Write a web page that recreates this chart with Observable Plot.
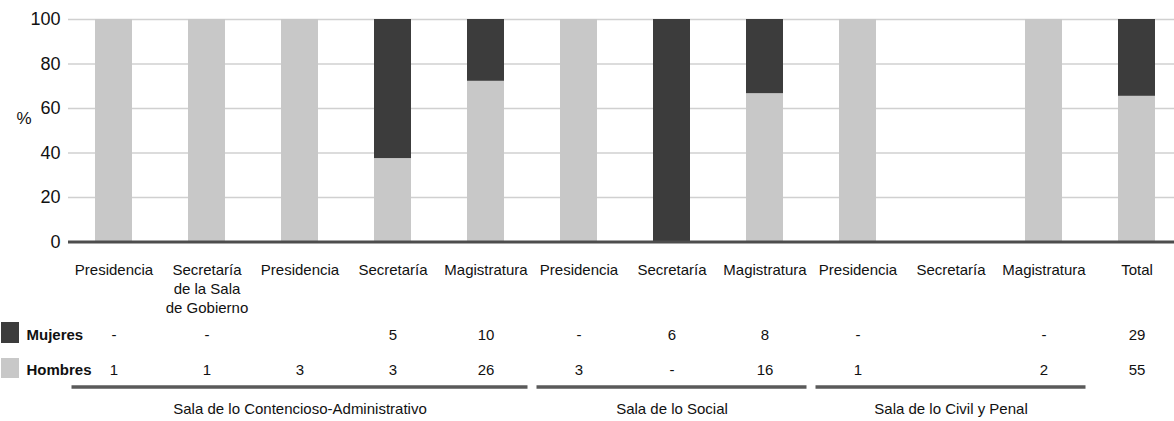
<!DOCTYPE html>
<html>
<head>
<meta charset="utf-8">
<script src="https://cdn.jsdelivr.net/npm/d3@7"></script>
<script src="https://cdn.jsdelivr.net/npm/@observablehq/plot@0.6"></script>
<style>
  html, body { margin: 0; padding: 0; background: #fff; }
  #chart svg { display: block; }
</style>
</head>
<body>
<div id="chart"></div>
<script>
// ---- Data ----
const categories = ["Presidencia", "Secretaría\nde la Sala\nde Gobierno", "Presidencia", "Secretaría", "Magistratura",
  "Presidencia", "Secretaría", "Magistratura", "Presidencia", "Secretaría", "Magistratura", "Total"];
const mujeres = [0, 0, null, 5, 10, 0, 6, 8, 0, null, 0, 29];
const hombres = [1, 1, 3, 3, 26, 3, 0, 16, 1, null, 2, 55];
const seriesNames = ["Hombres", "Mujeres"];
const seriesColors = ["#c8c8c8", "#3c3c3c"];
const groupNames = ["Sala de lo Contencioso-Administrativo", "Sala de lo Social", "Sala de lo Civil y Penal"];
const groupStart = [0, 5, 8];
const groupEnd = [4, 7, 10];
const groupLabelAt = [2, 6, 9];
const yTicks = [0, 20, 40, 60, 80, 100];

// ---- Derived tables ----
const ids = categories.map((_, i) => i);
const fmt = v => v == null ? "" : v === 0 ? "-" : String(v);
const rows = [];
ids.forEach(i => {
  const m = mujeres[i] ?? 0, h = hombres[i] ?? 0, t = m + h;
  if (t > 0) {
    rows.push({id: i, sex: "Hombres", pct: h / t * 100});
    rows.push({id: i, sex: "Mujeres", pct: m / t * 100});
  }
});
const catRows = ids.map(i => ({id: i, label: categories[i], m: fmt(mujeres[i]), h: fmt(hombres[i])}));
const groupRows = groupNames.map((g, k) => ({name: g, id: groupLabelAt[k]}));

// ---- Layout ----
const W = 1174, H = 421;
const mTop = 19, mBottom = 179.5, mLeft = 68, mRight = 0;
const xRange = [67.5, 1183.5];
const padIn = 0.6, padOut = 0.3;
const xs = d3.scaleBand(ids, xRange).paddingInner(padIn).paddingOuter(padOut);
const font = "'Liberation Sans', Arial, Helvetica, sans-serif";
const textColor = "#111";

function tableDecor(index, scales, values, dims) {
  const g = d3.create("svg:g");
  const base = dims.height - dims.marginBottom;
  const step = xs.step(), bw = xs.bandwidth();
  // group underlines
  groupNames.forEach((_, k) => {
    const left = xs(groupStart[k]) - step * padOut + 4;
    const right = xs(groupEnd[k]) + bw + step * padOut - 5;
    g.append("line")
      .attr("x1", left).attr("x2", right)
      .attr("y1", base + 145.5).attr("y2", base + 145.5)
      .attr("stroke", "#5a5a5a").attr("stroke-width", 3.5);
  });
  // legend swatches
  const sw = [["Mujeres", 80.5, 21], ["Hombres", 116.5, 20]];
  sw.forEach(([name, off, h]) => {
    g.append("rect")
      .attr("x", dims.marginLeft - 67).attr("y", base + off)
      .attr("width", 18).attr("height", h)
      .attr("fill", seriesColors[seriesNames.indexOf(name)]);
  });
  return g.node();
}

const chart = Plot.plot({
  width: W,
  height: H,
  marginTop: mTop,
  marginBottom: mBottom,
  marginLeft: mLeft,
  marginRight: mRight,
  style: {fontFamily: font, fontSize: "15px", color: textColor, background: "#fff"},
  x: {type: "band", domain: ids, range: xRange, paddingInner: padIn, paddingOuter: padOut, align: 0.5, axis: null},
  y: {domain: [0, 100], axis: null},
  color: {domain: seriesNames, range: seriesColors},
  marks: [
    Plot.ruleY(yTicks.filter(d => d > 0), {stroke: "#d0d0d0", strokeWidth: 1.7}),
    Plot.barY(rows, {x: "id", y: "pct", fill: "sex", z: "sex", order: seriesNames}),
    Plot.ruleY([0], {stroke: "#4d4d4d", strokeWidth: 3}),
    Plot.axisY({ticks: yTicks, tickSize: 0, tickPadding: 8, fontSize: 18, label: null, tickFormat: d => String(d), fill: textColor}),
    Plot.text(["%"], {frameAnchor: "left", dx: -52, dy: -12, fontSize: 17, fill: textColor}),
    // category labels
    Plot.text(catRows, {x: "id", text: "label", frameAnchor: "bottom", lineAnchor: "top", dy: 19.5, lineHeight: 1.27, fontSize: 15, fill: textColor}),
    // table rows
    Plot.text(catRows, {x: "id", text: "m", frameAnchor: "bottom", dy: 97.5, fontSize: 15, fill: textColor}),
    Plot.text(catRows, {x: "id", text: "h", frameAnchor: "bottom", dy: 132.5, fontSize: 15, fill: textColor}),
    Plot.text(["Mujeres"], {frameAnchor: "bottom-left", textAnchor: "start", dx: -42, dy: 97.5, fontSize: 15, fontWeight: "bold", fill: textColor}),
    Plot.text(["Hombres"], {frameAnchor: "bottom-left", textAnchor: "start", dx: -42, dy: 132.5, fontSize: 15, fontWeight: "bold", fill: textColor}),
    // group labels
    Plot.text(groupRows, {x: "id", text: "name", frameAnchor: "bottom", dy: 171.5, fontSize: 15, fill: textColor}),
    tableDecor
  ]
});
document.getElementById("chart").appendChild(chart);
</script>
</body>
</html>
